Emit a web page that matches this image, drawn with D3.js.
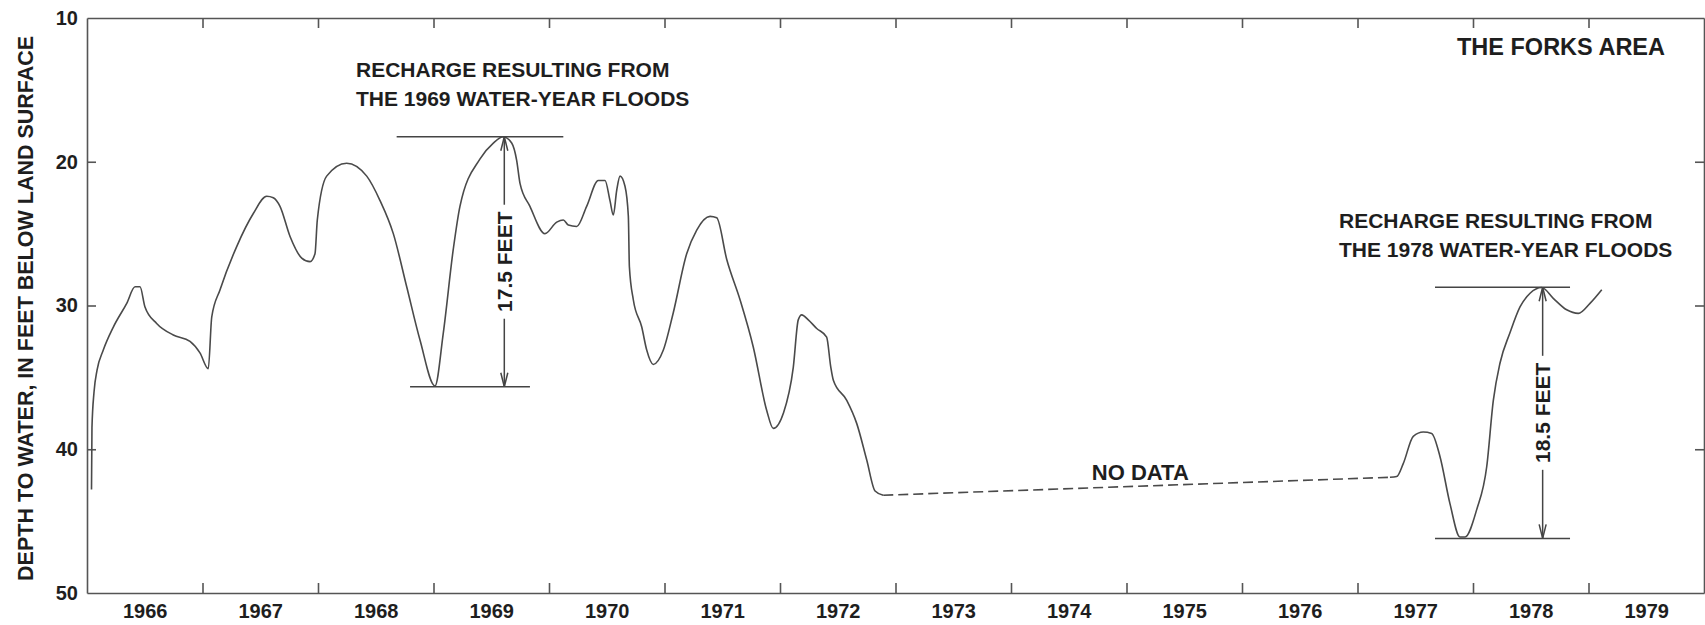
<!DOCTYPE html>
<html>
<head>
<meta charset="utf-8">
<script src="https://cdn.jsdelivr.net/npm/d3@7"></script>
<style>
  body { margin: 0; background: #fff; }
  text { font-family: "Liberation Sans", Arial, Helvetica, sans-serif; font-weight: bold; fill: #1e1e1e; }
</style>
</head>
<body>
<script>
// year bands on the x axis, depth ticks on the y axis
var years = d3.range(1966, 1980);
var depthTicks = [10, 20, 30, 40, 50];

// well record 1966-1972, [decimal year, depth to water in feet]
var record1 = [
  [1966.039, 42.8], [1966.043, 38.5], [1966.061, 36.0], [1966.087, 34.5], [1966.141, 33.1],
  [1966.228, 31.5], [1966.344, 29.85], [1966.416, 28.7], [1966.459, 28.7], [1966.502, 30.1],
  [1966.603, 31.25], [1966.747, 32.05], [1966.892, 32.5], [1966.978, 33.3], [1967.050, 34.4],
  [1967.080, 30.8], [1967.152, 28.9], [1967.296, 25.9], [1967.440, 23.6], [1967.556, 22.4],
  [1967.613, 22.5], [1967.671, 23.1], [1967.758, 25.2], [1967.859, 26.7], [1967.931, 26.95],
  [1967.974, 26.4], [1967.994, 24.05], [1968.075, 21.0], [1968.248, 20.1], [1968.422, 21.0],
  [1968.537, 22.7], [1968.652, 25.0], [1968.768, 28.7], [1968.883, 32.4], [1969.013, 35.6],
  [1969.085, 31.9], [1969.171, 26.1], [1969.229, 23.1], [1969.403, 19.8], [1969.518, 18.7],
  [1969.604, 18.26], [1969.677, 18.7], [1969.720, 19.9], [1969.749, 21.5], [1969.835, 23.1],
  [1969.965, 25.0], [1970.067, 24.2], [1970.124, 24.05], [1970.167, 24.4], [1970.240, 24.5],
  [1970.326, 23.1], [1970.427, 21.3], [1970.485, 21.3], [1970.528, 22.7], [1970.557, 23.7],
  [1970.586, 22.0], [1970.615, 21.0], [1970.658, 21.7], [1970.687, 23.8], [1970.696, 27.3],
  [1970.730, 29.6], [1970.803, 31.5], [1970.846, 33.1], [1970.903, 34.1], [1970.990, 33.1],
  [1971.076, 30.5], [1971.192, 26.4], [1971.279, 24.75], [1971.394, 23.8], [1971.452, 23.9],
  [1971.539, 26.8], [1971.654, 29.6], [1971.769, 32.9], [1971.885, 37.3], [1971.942, 38.55],
  [1972.029, 37.5], [1972.115, 34.3], [1972.158, 31.0], [1972.188, 30.65], [1972.245, 31.0],
  [1972.318, 31.6], [1972.404, 32.2], [1972.439, 34.25], [1972.462, 35.2], [1972.578, 36.6],
  [1972.664, 38.2], [1972.751, 40.75], [1972.823, 42.9], [1972.894, 43.2]
];

// no data between the two records
var noData = [[1972.894, 43.2], [1977.281, 41.95]];

// well record 1977-1979
var record2 = [
  [1977.281, 41.95], [1977.339, 41.9], [1977.396, 41.0], [1977.483, 39.1], [1977.569, 38.8],
  [1977.642, 38.9], [1977.714, 40.5], [1977.801, 43.8], [1977.887, 46.1], [1977.931, 46.1],
  [1978.032, 44.2], [1978.119, 41.2], [1978.176, 36.6], [1978.234, 34.0], [1978.320, 31.9],
  [1978.407, 30.1], [1978.494, 29.15], [1978.595, 28.75], [1978.695, 29.5], [1978.811, 30.3],
  [1978.912, 30.55], [1979.013, 29.85], [1979.115, 28.9]
];

// recharge brackets: [arrow year, high level, low level], then line spans
var recharge1969 = [1969.613, 18.26, 35.65];
var recharge1969Top = [1968.681, 1970.124];
var recharge1969Bottom = [1968.797, 1969.835];
var recharge1978 = [1978.603, 28.73, 46.2];
var recharge1978Top = [1977.671, 1978.840];
var recharge1978Bottom = [1977.671, 1978.840];

var width = 1705, height = 625;

var x = d3.scaleLinear().domain([1966, 1980]).range([87, 1704]);
var y = d3.scaleLinear().domain([10, 50]).range([18, 593]);

var svg = d3.select("body").append("svg")
    .attr("width", width)
    .attr("height", height);

// axes, ticks point inward
var bottomTicks = svg.append("g")
    .attr("transform", "translate(0," + y(50) + ")")
    .call(d3.axisBottom(x).tickValues(years.slice(1)).tickSizeInner(-10).tickSizeOuter(0).tickFormat(""));
var topTicks = svg.append("g")
    .attr("transform", "translate(0," + y(10) + ")")
    .call(d3.axisTop(x).tickValues(years.slice(1)).tickSizeInner(-10).tickSizeOuter(0).tickFormat(""));
var leftAxis = svg.append("g")
    .attr("transform", "translate(" + x(1966) + ",0)")
    .call(d3.axisLeft(y).tickValues(depthTicks).tickSizeInner(-9).tickSizeOuter(0).tickPadding(9));
var rightTicks = svg.append("g")
    .attr("transform", "translate(" + x(1980) + ",0)")
    .call(d3.axisRight(y).tickValues([20, 30, 40]).tickSizeInner(-9).tickSizeOuter(0).tickFormat(""));

// year labels centred in each band
var yearLabels = svg.append("g")
    .attr("transform", "translate(0," + y(50) + ")")
    .call(d3.axisBottom(x).tickValues(years.map(function(v){ return v + 0.5; }))
        .tickSize(0).tickPadding(11).tickFormat(function(v){ return Math.floor(v); }));
yearLabels.select(".domain").remove();

svg.selectAll(".domain, .tick line")
    .attr("stroke", "#555")
    .attr("stroke-width", 1.6);
svg.selectAll(".tick text")
    .attr("font-family", "Liberation Sans, Arial, sans-serif")
    .attr("font-weight", "bold")
    .attr("font-size", 20)
    .attr("fill", "#1e1e1e");
leftAxis.selectAll(".tick line").filter(function(d){ return d == 10 || d == 50; }).remove();

// y axis title
svg.append("text")
    .attr("transform", "translate(33," + y(30.2) + ") rotate(-90)")
    .attr("text-anchor", "middle")
    .attr("font-size", 21.5)
    .text("DEPTH TO WATER, IN FEET BELOW LAND SURFACE");

// hydrograph
var line = d3.line()
    .x(function(d){ return x(d[0]); })
    .y(function(d){ return y(d[1]); })
    .curve(d3.curveMonotoneX);

svg.append("path")
    .datum(record1)
    .attr("fill", "none")
    .attr("stroke", "#4a4a4a")
    .attr("stroke-width", 1.6)
    .attr("d", line);

svg.append("path")
    .datum(record2)
    .attr("fill", "none")
    .attr("stroke", "#4a4a4a")
    .attr("stroke-width", 1.6)
    .attr("d", line);

svg.append("path")
    .datum(noData)
    .attr("fill", "none")
    .attr("stroke", "#4a4a4a")
    .attr("stroke-width", 1.6)
    .attr("stroke-dasharray", "10,5")
    .attr("d", d3.line().x(function(d){ return x(d[0]); }).y(function(d){ return y(d[1]); }));

svg.append("text")
    .attr("x", x(1974.7))
    .attr("y", y(42.3) - 2)
    .attr("font-size", 22)
    .text("NO DATA");

// recharge bracket with a double arrow and a rotated label
function bracket(r, topSpan, bottomSpan, label){
    var g = svg.append("g")
        .attr("stroke", "#444")
        .attr("stroke-width", 1.5)
        .attr("fill", "none");
    g.append("line")
        .attr("x1", x(topSpan[0])).attr("x2", x(topSpan[1]))
        .attr("y1", y(r[1])).attr("y2", y(r[1]));
    g.append("line")
        .attr("x1", x(bottomSpan[0])).attr("x2", x(bottomSpan[1]))
        .attr("y1", y(r[2])).attr("y2", y(r[2]));

    var ax = x(r[0]), yTop = y(r[1]), yBot = y(r[2]);
    var yMid = (yTop + yBot) / 2, gap = 57;
    g.append("line").attr("x1", ax).attr("x2", ax).attr("y1", yTop).attr("y2", yMid - gap);
    g.append("line").attr("x1", ax).attr("x2", ax).attr("y1", yMid + gap).attr("y2", yBot);
    g.append("path").attr("d", "M" + (ax - 3.5) + "," + (yTop + 14) + "L" + ax + "," + yTop + "L" + (ax + 3.5) + "," + (yTop + 14));
    g.append("path").attr("d", "M" + (ax - 3.5) + "," + (yBot - 14) + "L" + ax + "," + yBot + "L" + (ax + 3.5) + "," + (yBot - 14));

    svg.append("text")
        .attr("transform", "translate(" + (ax + 7.5) + "," + yMid + ") rotate(-90)")
        .attr("text-anchor", "middle")
        .attr("font-size", 21)
        .text(label);
}

bracket(recharge1969, recharge1969Top, recharge1969Bottom, "17.5 FEET");
bracket(recharge1978, recharge1978Top, recharge1978Bottom, "18.5 FEET");

// annotation text
var note1969 = svg.append("text").attr("font-size", 21);
note1969.append("tspan").attr("x", 356).attr("y", 77).text("RECHARGE RESULTING FROM");
note1969.append("tspan").attr("x", 356).attr("y", 106).text("THE 1969 WATER-YEAR FLOODS");

var note1978 = svg.append("text").attr("font-size", 21);
note1978.append("tspan").attr("x", 1339).attr("y", 228).text("RECHARGE RESULTING FROM");
note1978.append("tspan").attr("x", 1339).attr("y", 257).text("THE 1978 WATER-YEAR FLOODS");

svg.append("text")
    .attr("x", 1665)
    .attr("y", 55)
    .attr("text-anchor", "end")
    .attr("font-size", 23.5)
    .text("THE FORKS AREA");
</script>
</body>
</html>
